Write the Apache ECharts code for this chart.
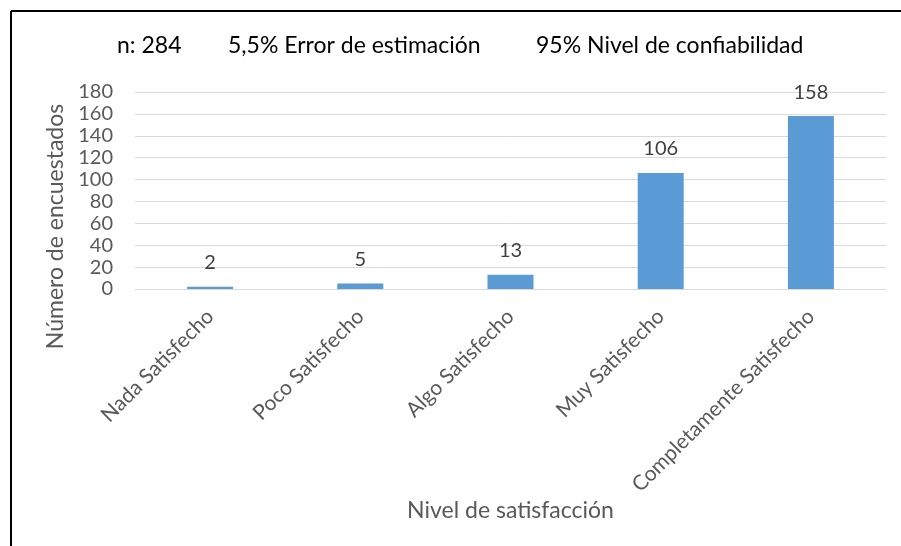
<!DOCTYPE html>
<html>
<head>
<meta charset="utf-8">
<script src="https://cdn.jsdelivr.net/npm/echarts@6/dist/echarts.min.js"></script>
<style>
    html, body {margin: 0; padding: 0; background: #fff;}
    #chart {width: 901px; height: 546px;}
</style>
</head>
<body>
<div id="chart"></div>
<script>
// datos de la encuesta
var aCategorias = ['Nada Satisfecho', 'Poco Satisfecho', 'Algo Satisfecho', 'Muy Satisfecho', 'Completamente Satisfecho'];
var aEncuestados = [2, 5, 13, 106, 158];
var aTitulos = ['n: 284', '5,5% Error de estimación', '95% Nivel de confiabilidad'];

var sFuente = 'Lato, "Open Sans", sans-serif';

function GetOption() {
    var aTitleLeft = [117, 228, 536];
    var aTitle = [];
    for (var i = 0; i < aTitulos.length; i++) {
        aTitle.push({
            text: aTitulos[i],
            left: aTitleLeft[i],
            top: 34,
            padding: 0,
            textStyle: {fontFamily: sFuente, fontSize: 23, fontWeight: 'normal', color: '#000'}
        });
    }
    return {
        animation: false,
        title: aTitle,
        grid: {left: 135, right: 15, top: 92, bottom: 257, containLabel: false},
        // bordes del recuadro (solo arriba e izquierda)
        graphic: [
            {type: 'line', shape: {x1: 11, y1: 11, x2: 901, y2: 11}, style: {stroke: '#000', lineWidth: 2}},
            {type: 'line', shape: {x1: 11, y1: 11, x2: 11, y2: 546}, style: {stroke: '#000', lineWidth: 2}}
        ],
        xAxis: {
            type: 'category',
            data: aCategorias,
            name: 'Nivel de satisfacción',
            nameLocation: 'middle',
            nameGap: 206,
            nameTextStyle: {fontFamily: sFuente, fontSize: 23, color: '#595959'},
            axisLine: {lineStyle: {color: '#d9d9d9', width: 1}},
            axisTick: {show: false},
            axisLabel: {
                rotate: 45,
                margin: 24,
                interval: 0,
                fontFamily: sFuente,
                fontSize: 21,
                color: '#595959'
            }
        },
        yAxis: {
            type: 'value',
            min: 0,
            max: 180,
            interval: 20,
            name: 'Número de encuestados',
            nameLocation: 'middle',
            nameGap: 66,
            nameTextStyle: {fontFamily: sFuente, fontSize: 23, color: '#595959', padding: [0, 72, 0, 0]},
            axisLine: {show: false},
            axisTick: {show: false},
            axisLabel: {margin: 22, fontFamily: sFuente, fontSize: 20, color: '#595959'},
            splitLine: {lineStyle: {color: '#d9d9d9', width: 1}}
        },
        series: [
            {
                type: 'bar',
                data: aEncuestados,
                barWidth: 46,
                itemStyle: {color: '#5b9bd5'},
                label: {
                    show: true,
                    position: 'top',
                    distance: 14,
                    fontFamily: sFuente,
                    fontSize: 20,
                    color: '#404040'
                }
            }
        ]
    };
}

function drawChart(sTagID) {
    var oChart = echarts.init(document.getElementById(sTagID));
    oChart.setOption(GetOption());
    return oChart;
}

drawChart('chart');
</script>
</body>
</html>
